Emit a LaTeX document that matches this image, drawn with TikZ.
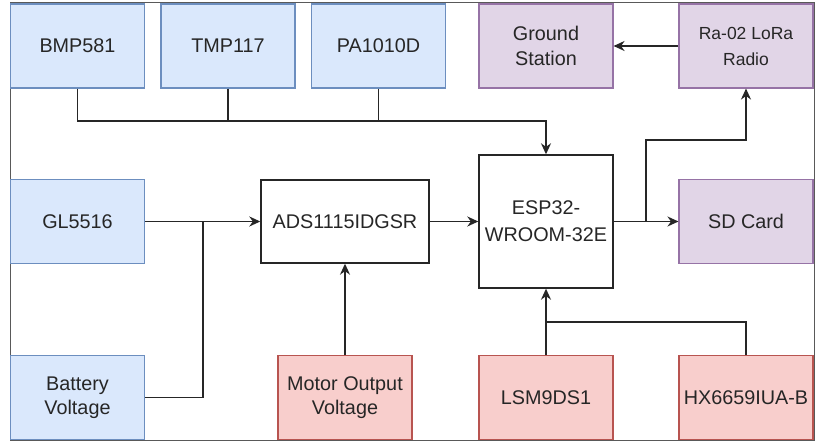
\documentclass[tikz,border=0pt]{standalone}
\usepackage{fontspec}
\setmainfont{Liberation Sans}
\usetikzlibrary{arrows.meta,calc}
\definecolor{bfill}{HTML}{DAE8FC}\definecolor{bline}{HTML}{6C8EBF}
\definecolor{pfill}{HTML}{E1D5E7}\definecolor{pline}{HTML}{9673A6}
\definecolor{rfill}{HTML}{F8CECC}\definecolor{rline}{HTML}{B85450}
\definecolor{txt}{HTML}{262626}
\begin{document}
\begin{tikzpicture}[x=1pt,y=-1pt,
  box/.style={draw, line width=1.1pt, minimum width=134pt, minimum height=84pt, inner sep=0pt,
    align=center, text=txt, font=\fontsize{19.8}{24.5}\selectfont},
  bluebox/.style={box, fill=bfill, draw=bline},
  purplebox/.style={box, fill=pfill, draw=pline},
  redbox/.style={box, fill=rfill, draw=rline},
  plainbox/.style={box, fill=white, draw=black!85, line width=1.4pt},
  wire/.style={draw=black!85, line width=1.6pt},
  arr/.style={wire, -{Stealth[length=11pt,width=10pt]}}]
\useasboundingbox (0,0) rectangle (820,443);
\fill[white] (0,0) rectangle (820,443);
\draw[gray!70!black, line width=1pt] (10,3) rectangle (814,441);
% top row
\node[bluebox] (bmp) at (77.5,46) {BMP581};
\node[bluebox] (tmp) at (228,46) {TMP117};
\node[bluebox] (pa) at (378.5,46) {PA1010D};
\node[purplebox] (gs) at (546,46) {Ground\\Station};
\node[purplebox, font=\fontsize{17.5}{26}\selectfont] (ra) at (746,46) {Ra-02 LoRa\\Radio};
% middle row
\node[bluebox] (gl) at (77.5,221.5) {GL5516};
\node[plainbox, minimum width=168pt, minimum height=83pt] (ads) at (345,221.5) {ADS1115IDGSR};
\node[plainbox, minimum width=134pt, minimum height=133pt, font=\fontsize{19.8}{27}\selectfont] (esp) at (546,221.5) {ESP32-\\WROOM-32E};
\node[purplebox] (sd) at (746,221.5) {SD Card};
% bottom row
\node[bluebox] (bat) at (77.5,397.5) {Battery\\Voltage};
\node[redbox] (mot) at (345,397.5) {Motor Output\\Voltage};
\node[redbox] (lsm) at (546,397.5) {LSM9DS1};
\node[redbox] (hx) at (746,397.5) {HX6659IUA-B};
% connectors
\coordinate (busR) at (546,121);
\draw[arr] (bmp.south) |- (busR) -- (esp.north);
\draw[wire] (tmp.south) -- (tmp.south |- busR);
\draw[wire] (pa.south) -- (pa.south |- busR);
\draw[arr] (gl.east) -- (ads.west);
\coordinate (j1) at (203,221.5);
\draw[wire] (bat.east) -| (j1);
\draw[arr] (mot.north) -- (ads.south);
\draw[arr] (ads.east) -- (esp.west);
\draw[arr] (esp.east) -- (sd.west);
\coordinate (j2) at (646,221.5);
\coordinate (rk) at (746,140);
\draw[arr] (j2) |- (rk) -- (ra.south);
\draw[arr] (ra.west) -- (gs.east);
\draw[arr] (lsm.north) -- (esp.south);
\coordinate (j3) at (546,322);
\draw[wire] (hx.north) |- (j3);
\end{tikzpicture}
\end{document}
